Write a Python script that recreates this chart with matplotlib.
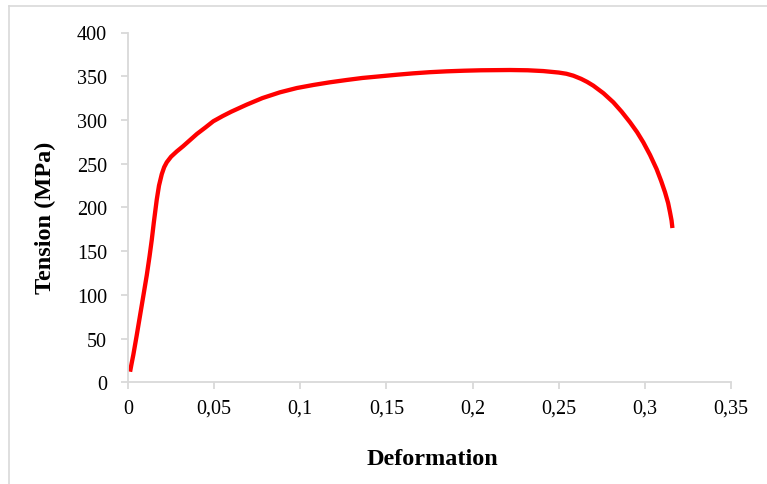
import matplotlib
matplotlib.use("Agg")
import matplotlib.pyplot as plt
from matplotlib.lines import Line2D

strain = [0.0012, 0.0020, 0.0031, 0.0050, 0.0070, 0.0090, 0.0109, 0.0125, 0.0138,
          0.0150, 0.0167, 0.0180, 0.0196, 0.0210, 0.0225, 0.0250, 0.0283, 0.0320,
          0.0360, 0.0400, 0.0450, 0.0495, 0.0550, 0.0600, 0.0689, 0.0780, 0.0882,
          0.0980, 0.1076, 0.1170, 0.1269, 0.1360, 0.1463, 0.1560, 0.1656, 0.1750,
          0.1850, 0.1950, 0.2050, 0.2217, 0.2320, 0.2410, 0.2500, 0.2545, 0.2585,
          0.2630, 0.2665, 0.2701, 0.2760, 0.2817, 0.2865, 0.2914, 0.2955, 0.2991,
          0.3030, 0.3068, 0.3095, 0.3117, 0.3135, 0.3146, 0.3155, 0.3160]
stress = [12.1, 20.5, 31.5, 53.0, 76.5, 100.0, 122.5, 144.0, 163.0,
          183.0, 209.0, 225.0, 238.0, 246.0, 251.6, 258.0, 264.0, 270.0,
          277.0, 284.0, 291.5, 298.5, 304.5, 309.5, 317.5, 325.0, 331.6,
          336.5, 340.0, 343.0, 345.7, 348.0, 349.9, 351.7, 353.3, 354.6,
          355.6, 356.3, 356.8, 357.1, 356.8, 355.9, 354.2, 352.8, 350.6,
          347.0, 343.5, 339.2, 330.5, 320.2, 309.5, 297.3, 286.0, 274.4,
          260.0, 243.9, 230.0, 217.3, 205.0, 194.4, 185.0, 176.4]

xticks = [0, 0.05, 0.1, 0.15, 0.2, 0.25, 0.3, 0.35]
xtick_labels = ["0", "0,05", "0,1", "0,15", "0,2", "0,25", "0,3", "0,35"]
yticks = [0, 50, 100, 150, 200, 250, 300, 350, 400]

plt.rcParams['font.family'] = ['Liberation Serif', 'DejaVu Serif']

W, H = 767, 485
fig = plt.figure(figsize=(W / 100, H / 100), dpi=100)
ax = fig.add_axes([128 / W, 1 - 383.3 / H, (731 - 128) / W, (383.3 - 33.5) / H])

ax.plot(strain, stress, color='#ff0000', lw=3.1, solid_capstyle='butt', solid_joinstyle='round')
ax.set_xlim(0, 0.35)
ax.set_ylim(0, 400)
ax.set_xticks(xticks)
ax.set_xticklabels(xtick_labels)
ax.set_yticks(yticks)

for s in ['top', 'right']:
    ax.spines[s].set_visible(False)
for s in ['left', 'bottom']:
    ax.spines[s].set_color('#d9d9d9')
    ax.spines[s].set_linewidth(1.3)
ax.tick_params(axis='both', direction='out', length=5, width=1.3, color='#d9d9d9',
               labelsize=14.5, labelcolor='black')
ax.tick_params(axis='x', pad=7)
ax.tick_params(axis='y', pad=10)

fig.text(45.5 / W, 1 - 218 / H, 'Tension (MPa)', rotation=90, ha='center', va='center',
         fontsize=17.5, fontweight='bold')
fig.text(432 / W, 1 - 460 / H, 'Deformation', ha='center', va='center',
         fontsize=17.5, fontweight='bold')

# outer chart border (left and top visible)
fig.add_artist(Line2D([8.5 / W, 8.5 / W], [0, 1 - 6.5 / H], transform=fig.transFigure,
                      color='#d9d9d9', lw=1.2))
fig.add_artist(Line2D([8.5 / W, 1], [1 - 6.5 / H, 1 - 6.5 / H], transform=fig.transFigure,
                      color='#d9d9d9', lw=1.2))

fig.savefig('out.png', dpi=100)
